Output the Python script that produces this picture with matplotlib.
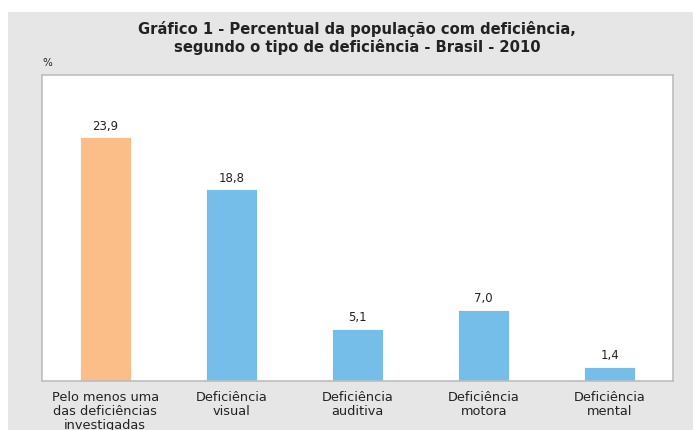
import matplotlib
matplotlib.use("Agg")
import matplotlib.pyplot as plt

categories = ["Pelo menos uma\ndas deficiências\ninvestigadas",
              "Deficiência\nvisual",
              "Deficiência\nauditiva",
              "Deficiência\nmotora",
              "Deficiência\nmental"]
values = [23.9, 18.8, 5.1, 7.0, 1.4]
value_labels = ["23,9", "18,8", "5,1", "7,0", "1,4"]
colors = ["#FBBE88", "#74BEE9", "#74BEE9", "#74BEE9", "#74BEE9"]

plt.rcParams['font.family'] = ['DejaVu Sans']

W, H = 693, 430
fig = plt.figure(figsize=(W / 100, H / 100), dpi=100)
fig.patch.set_facecolor("white")

# gray panel
bg = fig.add_axes([8 / W, 0, 1 - 8 / W, 1 - 12 / H], zorder=0)
bg.set_facecolor("#E6E6E6")
bg.set_xticks([]); bg.set_yticks([])
for s in bg.spines.values():
    s.set_visible(False)

ax = fig.add_axes([42 / W, 49 / H, 631 / W, 306 / H], zorder=1)
ax.set_facecolor("white")
x = list(range(len(categories)))
ax.bar(x, values, width=0.405, color=colors, edgecolor="white", linewidth=0.6, zorder=2)
ax.set_xlim(-0.5, 4.5)
ax.set_ylim(0, 30)
for xi, v, lab in zip(x, values, value_labels):
    ax.text(xi, v + 0.45, lab, ha="center", va="bottom", fontsize=8.5, color="#222222")

ax.set_yticks([])
ax.set_xticks(x)
ax.set_xticklabels(categories, fontsize=9.3, color="#222222", linespacing=1.1)
ax.tick_params(axis="x", length=0, pad=7)
for s in ax.spines.values():
    s.set_color("#BDBDBD")
    s.set_linewidth(1.2)

fig.text(357 / W, 1 - 38 / H,
         "Gráfico 1 - Percentual da população com deficiência,\nsegundo o tipo de deficiência - Brasil - 2010",
         ha="center", va="center", fontsize=10.6, fontweight="bold", color="#222222", linespacing=1.15)
fig.text(42 / W, 1 - 63 / H, "%", ha="left", va="center", fontsize=7.5, color="#222222")

fig.savefig("out.png", dpi=100, facecolor="white")
